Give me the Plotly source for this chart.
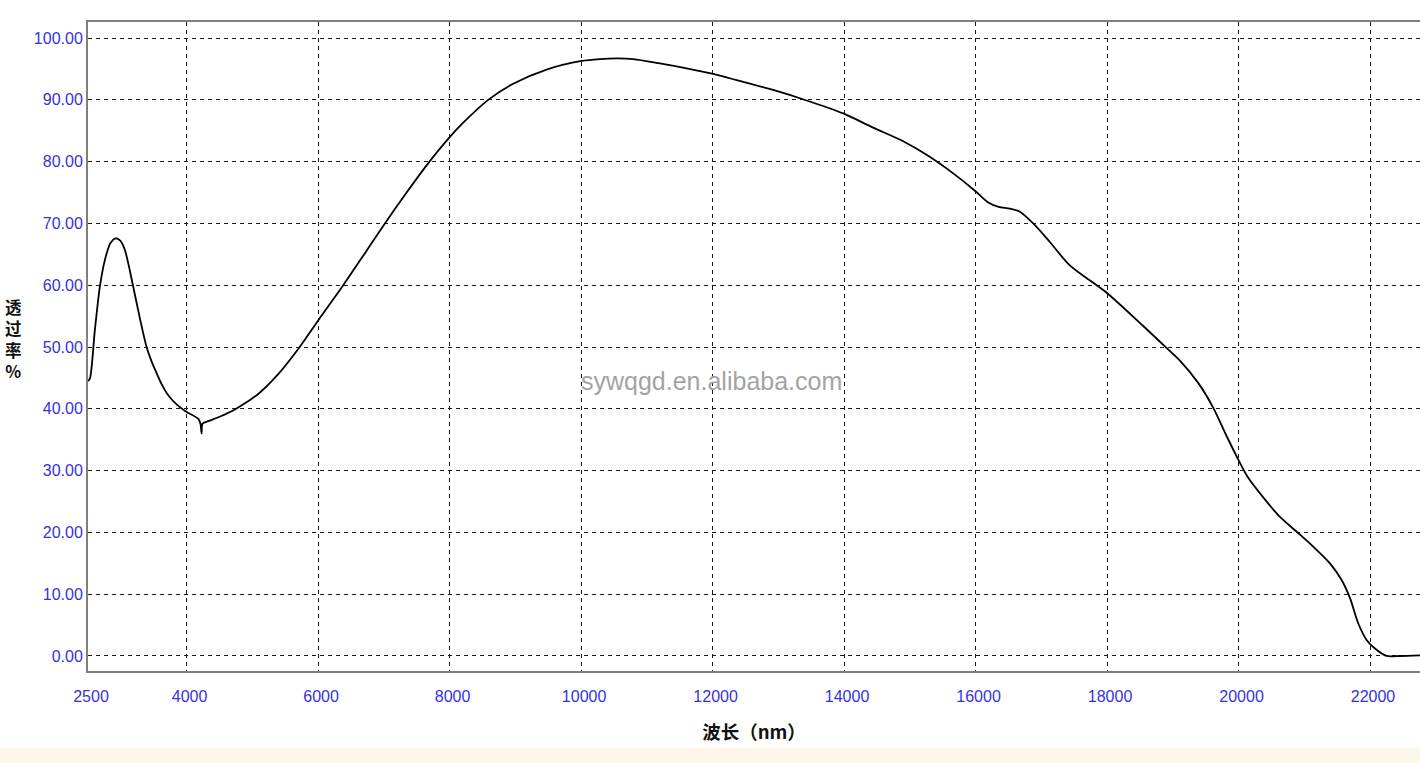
import plotly.graph_objects as go

# Wavelength (nm) and transmittance (%)
wavelength = [2500, 2529, 2605, 2681, 2757, 2840, 2920, 2990, 3061, 3187, 3290, 3391, 3470, 3543,
              3620, 3720, 3860, 4000, 4176, 4210, 4228, 4242, 4328, 4520, 4734, 5089, 5393,
              5720, 6001, 6382, 6738, 6990, 7346, 7650, 8005, 8207, 8587, 8967, 9475, 10008,
              10286, 10540, 10793, 11199, 11605, 12009, 12365, 12922, 13430, 13987,
              14443, 14899, 15255, 15660, 15990, 16192, 16350, 16522, 16674, 16877, 17130,
              17434, 17789, 18003, 18550, 18880, 19108, 19386, 19614, 19818, 20000,
              20137, 20388, 20630, 20907, 21136, 21390, 21568, 21694, 21820, 21948,
              22075, 22252, 22454, 22760]
transmittance = [44.5, 44.9, 52.8, 59.8, 64.1, 66.8, 67.6, 67.2, 65.7, 59.8, 54.6, 50.0, 47.6, 45.8,
                 44.0, 42.2, 40.6, 39.5, 38.4, 37.6, 36.0, 37.6, 38.0, 38.8, 39.9, 42.4, 45.6,
                 50.0, 54.3, 60.0, 65.6, 69.6, 75.0, 79.4, 84.0, 86.3, 90.0, 92.6, 94.9, 96.3,
                 96.6, 96.7, 96.6, 95.9, 95.1, 94.2, 93.2, 91.6, 89.9, 87.8,
                 85.5, 83.3, 81.1, 78.1, 75.3, 73.4, 72.7, 72.4, 71.9, 70.0, 67.0,
                 63.2, 60.4, 58.7, 53.4, 50.1, 47.8, 44.2, 40.2, 35.6, 31.7,
                 29.0, 25.5, 22.5, 19.9, 17.7, 15.0, 12.3, 9.4, 5.3, 2.6,
                 1.2, 0.0, 0.0, 0.1]

x_ticks = [2500, 4000, 6000, 8000, 10000, 12000, 14000, 16000, 18000, 20000, 22000]
y_ticks = [0, 10, 20, 30, 40, 50, 60, 70, 80, 90, 100]
y_tick_text = ["%.2f" % v for v in y_ticks]

x_title = "波长（nm）"
y_title = "透<br>过<br>率<br>%"
watermark = "sywqgd.en.alibaba.com"

W, H = 1420, 763
ML, MR, MT, MB = 88, 0, 22, 92
pw, ph = W - ML - MR, H - MT - MB

def px_to_paper_x(px):
    return (px - ML) / pw

def px_to_paper_y(py):
    return (H - MB - py) / ph

tick_font = dict(family="Liberation Sans, Arial, sans-serif", size=16, color="#3333dd")
axis_col = "#857c7c"
grid_col = "#1a1a1a"

fig = go.Figure()
fig.add_trace(go.Scatter(
    x=wavelength, y=transmittance, mode="lines",
    line=dict(color="#000000", width=1.8, shape="spline", smoothing=0.8),
    hoverinfo="skip", showlegend=False,
))

fig.update_layout(
    width=W, height=H,
    margin=dict(l=ML, r=MR, t=MT, b=MB, pad=0),
    paper_bgcolor="#ffffff", plot_bgcolor="#ffffff",
    showlegend=False,
    xaxis=dict(
        range=[2500, 22760], tickmode="array", tickvals=x_ticks,
        ticktext=[str(v) for v in x_ticks], tickfont=tick_font,
        showgrid=True, gridcolor=grid_col, gridwidth=1.4, griddash="4px,4px",
        zeroline=False, showline=True, linecolor=axis_col, linewidth=2, mirror=True,
        ticks="", ticklabelstandoff=10, ticklabelshift=3,
        title=dict(text=x_title, standoff=22,
                   font=dict(family="Noto Sans CJK SC", size=18.5, color="#111111", weight="bold")),
    ),
    yaxis=dict(
        range=[-2.43, 102.6], tickmode="array", tickvals=y_ticks, ticktext=y_tick_text,
        tickfont=tick_font,
        showgrid=True, gridcolor=grid_col, gridwidth=1.4, griddash="4px,4px",
        zeroline=False, showline=True, linecolor=axis_col, linewidth=2,
        ticks="", ticklabelstandoff=0,
    ),
    annotations=[
        dict(text=y_title, xref="paper", yref="paper",
             x=px_to_paper_x(13), y=px_to_paper_y(339), showarrow=False,
             font=dict(family="Noto Sans CJK SC", size=16.5, color="#111111", weight="bold"),
             xanchor="center", yanchor="middle"),
        dict(text=watermark, xref="paper", yref="paper",
             x=px_to_paper_x(711), y=px_to_paper_y(381), showarrow=False,
             font=dict(family="Liberation Sans, Arial, sans-serif", size=25, color="#a3a3a3"),
             xanchor="center", yanchor="middle"),
    ],
    shapes=[
        dict(type="rect", xref="paper", yref="paper", layer="below",
             x0=px_to_paper_x(0), x1=1.0, y0=px_to_paper_y(763), y1=px_to_paper_y(748),
             fillcolor="#fdf7ea", line=dict(width=0)),
    ],
)

fig.write_html("out.html", config={"displayModeBar": False},
               post_script="document.body.style.margin='0';document.body.style.overflow='hidden';")
